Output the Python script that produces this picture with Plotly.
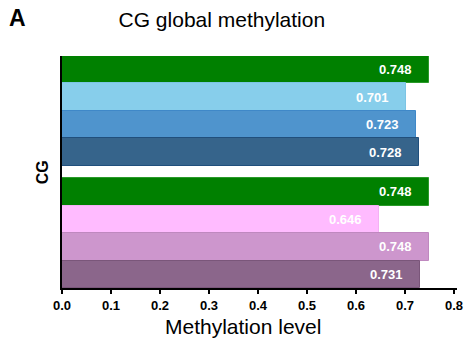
import plotly.graph_objects as go

# Global CG methylation per sample, two groups of four
values = [0.748, 0.701, 0.723, 0.728, 0.748, 0.646, 0.748, 0.731]
colors = ["#008000", "#87CEEB", "#4F94CD", "#36648B",
          "#008000", "#FFBBFF", "#CD96CD", "#8B668B"]
edges = ["#2a9a2a", "#7cc4e4", "#3f88c8", "#204f7c",
         "#2a9a2a", "#f4b0f4", "#bf88bf", "#7a567a"]
x_ticks = [0.0, 0.1, 0.2, 0.3, 0.4, 0.5, 0.6, 0.7, 0.8]
group_size = 4
group_gap = 0.44

FONT = "Liberation Sans, Arial, sans-serif"

# vertical slot for each bar: groups stacked with a small gap between them
ypos = [i + (i // group_size) * group_gap for i in range(len(values))]

fig = go.Figure()
fig.add_trace(go.Bar(
    x=values, y=ypos, orientation="h",
    width=1.0,
    marker=dict(color=colors, line=dict(color=edges, width=1)),
    hoverinfo="x",
))

# value labels inside the bar ends
for v, y in zip(values, ypos):
    fig.add_annotation(
        x=v, y=y, text=f"<b>{v:.3f}</b>", showarrow=False,
        xanchor="right", xshift=-15,
        font=dict(family=FONT, size=13, color="white"),
    )

# panel letter
fig.add_annotation(
    x=-0.14, y=1.165, xref="paper", yref="paper", text="<b>A</b>", showarrow=False,
    xanchor="left", yanchor="middle",
    font=dict(family=FONT, size=23, color="black"),
)
# axis titles
fig.add_annotation(
    x=-0.05, y=0.5, xref="paper", yref="paper", text="<b>CG</b>", showarrow=False,
    textangle=-90, xanchor="center", yanchor="middle",
    font=dict(family=FONT, size=16, color="black"),
)
fig.add_annotation(
    x=0.459, y=-0.164, xref="paper", yref="paper", text="Methylation level", showarrow=False,
    xanchor="center", yanchor="middle",
    font=dict(family=FONT, size=21, color="black"),
)

fig.update_layout(
    width=472, height=344,
    margin=dict(l=62, r=9, t=56, b=56),
    paper_bgcolor="white", plot_bgcolor="white",
    bargap=0,
    showlegend=False,
    title=dict(text="CG global methylation", x=0.47, xanchor="center", y=0.942, yanchor="middle",
               font=dict(family=FONT, size=21, color="black")),
    xaxis=dict(
        range=[0, 0.806], tickvals=x_ticks, ticktext=[f"<b>{t:.1f}</b>" for t in x_ticks],
        showline=True, linecolor="black", linewidth=2,
        ticks="outside", ticklen=4, tickwidth=1.5, tickcolor="black",
        showgrid=False, zeroline=False,
        tickfont=dict(family=FONT, size=13, color="black"),
    ),
    yaxis=dict(
        range=[ypos[-1] + 0.5, -0.5], showticklabels=False, ticks="",
        showline=True, linecolor="black", linewidth=2,
        showgrid=False, zeroline=False,
    ),
)

fig.write_html("out.html")
